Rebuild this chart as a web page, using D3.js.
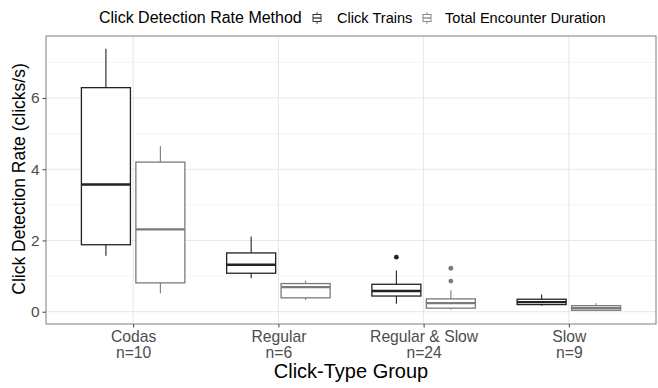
<!DOCTYPE html>
<html>
<head>
<meta charset="utf-8">
<script src="https://cdn.jsdelivr.net/npm/d3@7"></script>
<style>
  body { margin: 0; background: #fff; }
  text { font-family: "Liberation Sans", Arial, sans-serif; }
</style>
</head>
<body>
<svg id="chart" width="658" height="388"></svg>
<script>
// Data: [lower whisker, Q1, median, Q3, upper whisker]
const groups = ["Codas", "Regular", "Regular & Slow", "Slow"];
const groupN = ["n=10", "n=6", "n=24", "n=9"];
const methods = ["Click Trains", "Total Encounter Duration"];
const clickTrains = [
  [1.57, 1.88, 3.57, 6.29, 7.38],
  [0.94, 1.08, 1.32, 1.65, 2.11],
  [0.22, 0.44, 0.58, 0.77, 1.16],
  [0.17, 0.2, 0.27, 0.35, 0.48]
];
const totalDuration = [
  [0.52, 0.81, 2.31, 4.2, 4.65],
  [0.33, 0.39, 0.69, 0.79, 0.87],
  [0.06, 0.1, 0.24, 0.36, 0.6],
  [0.02, 0.04, 0.1, 0.17, 0.24]
];
const ctOutliers = [[], [], [1.53], []];
const tedOutliers = [[], [], [1.22, 0.86], []];
const yTicks = [0, 2, 4, 6];
const yMinor = [1, 3, 5, 7];

const methodColor = ["#222222", "#7a7a7a"];

// Panel
const panel = { left: 46, right: 656, top: 36, bottom: 324 };
const svg = d3.select("#chart");

const x = d3.scalePoint().domain(groups).range([panel.left, panel.right]).padding(0.6);
const y = d3.scaleLinear().domain([-0.345, 7.74]).range([panel.bottom, panel.top]);
const step = x.step();
const boxW = step * 0.3375;
const offset = step * 0.1875;

// Gridlines
const grid = svg.append("g");
grid.selectAll("line.minor").data(yMinor).enter().append("line")
  .attr("x1", panel.left).attr("x2", panel.right)
  .attr("y1", d => y(d)).attr("y2", d => y(d))
  .attr("stroke", "#f3f3f3").attr("stroke-width", 0.8);
grid.selectAll("line.major").data(yTicks).enter().append("line")
  .attr("x1", panel.left).attr("x2", panel.right)
  .attr("y1", d => y(d)).attr("y2", d => y(d))
  .attr("stroke", "#e6e6e6").attr("stroke-width", 1);
grid.selectAll("line.vert").data(groups).enter().append("line")
  .attr("x1", d => x(d)).attr("x2", d => x(d))
  .attr("y1", panel.top).attr("y2", panel.bottom)
  .attr("stroke", "#e6e6e6").attr("stroke-width", 1);

// Boxplots
function drawBoxes(stats, outliers, dx, color) {
  const g = svg.append("g");
  stats.forEach((s, i) => {
    const cx = x(groups[i]) + dx;
    g.append("line").attr("x1", cx).attr("x2", cx)
      .attr("y1", y(s[3])).attr("y2", y(s[4])).attr("stroke", color).attr("stroke-width", 1.1);
    g.append("line").attr("x1", cx).attr("x2", cx)
      .attr("y1", y(s[1])).attr("y2", y(s[0])).attr("stroke", color).attr("stroke-width", 1.1);
    g.append("rect")
      .attr("x", cx - boxW / 2).attr("width", boxW)
      .attr("y", y(s[3])).attr("height", y(s[1]) - y(s[3]))
      .attr("fill", "#fff").attr("stroke", color).attr("stroke-width", 1.3);
    g.append("line").attr("x1", cx - boxW / 2).attr("x2", cx + boxW / 2)
      .attr("y1", y(s[2])).attr("y2", y(s[2])).attr("stroke", color).attr("stroke-width", 2.4);
    g.selectAll(null).data(outliers[i]).enter().append("circle")
      .attr("cx", cx).attr("cy", d => y(d)).attr("r", 2.4).attr("fill", color);
  });
}
drawBoxes(clickTrains, ctOutliers, -offset, methodColor[0]);
drawBoxes(totalDuration, tedOutliers, offset, methodColor[1]);

// Panel border
svg.append("rect")
  .attr("x", panel.left).attr("y", panel.top)
  .attr("width", panel.right - panel.left).attr("height", panel.bottom - panel.top)
  .attr("fill", "none").attr("stroke", "#8a8a8a").attr("stroke-width", 1.1);

// Axes
const yAxis = svg.append("g")
  .attr("transform", `translate(${panel.left},0)`)
  .call(d3.axisLeft(y).tickValues(yTicks).tickSize(3.5).tickPadding(3).tickFormat(d3.format("d")));
yAxis.select(".domain").remove();
yAxis.selectAll(".tick line").attr("stroke", "#444");
yAxis.selectAll(".tick text").attr("fill", "#4d4d4d").style("font-size", "15.5px");

const xAxis = svg.append("g")
  .attr("transform", `translate(0,${panel.bottom})`)
  .call(d3.axisBottom(x).tickSize(3.5).tickPadding(3).tickFormat(""));
xAxis.select(".domain").remove();
xAxis.selectAll(".tick line").attr("stroke", "#444");
xAxis.selectAll(".tick").each(function (d, i) {
  const t = d3.select(this).append("text")
    .attr("fill", "#4d4d4d").attr("text-anchor", "middle").style("font-size", "15.7px");
  t.append("tspan").attr("x", 0).attr("y", 18).text(d);
  t.append("tspan").attr("x", 0).attr("y", 34).text(groupN[i]);
});

// Axis titles
svg.append("text")
  .attr("x", (panel.left + panel.right) / 2).attr("y", 378)
  .attr("text-anchor", "middle").attr("fill", "#000")
  .style("font-size", "20px").text("Click-Type Group");
svg.append("text")
  .attr("transform", `translate(25,${(panel.top + panel.bottom) / 2 - 1}) rotate(-90)`)
  .attr("text-anchor", "middle").attr("fill", "#000")
  .style("font-size", "17.5px").text("Click Detection Rate (clicks/s)");

// Legend
const legend = svg.append("g");
legend.append("text").attr("x", 99).attr("y", 23).attr("fill", "#000")
  .style("font-size", "16px").text("Click Detection Rate Method");
const legendItems = [
  { icon: 313, text: 337 },
  { icon: 423, text: 445 }
];
methods.forEach((m, i) => {
  const it = legendItems[i];
  const k = legend.append("g").attr("transform", `translate(${it.icon},18)`);
  const c = methodColor[i];
  k.append("line").attr("x1", 4).attr("x2", 4).attr("y1", -6).attr("y2", 6).attr("stroke", c).attr("stroke-width", 0.8);
  k.append("rect").attr("x", 0).attr("y", -3.5).attr("width", 8).attr("height", 7)
    .attr("fill", "#fff").attr("stroke", c).attr("stroke-width", 0.9);
  k.append("line").attr("x1", 0).attr("x2", 8).attr("y1", 0).attr("y2", 0).attr("stroke", c).attr("stroke-width", 1.2);
  legend.append("text").attr("x", it.text).attr("y", 23).attr("fill", "#000")
    .style("font-size", "14.6px").text(m);
});
</script>
</body>
</html>
